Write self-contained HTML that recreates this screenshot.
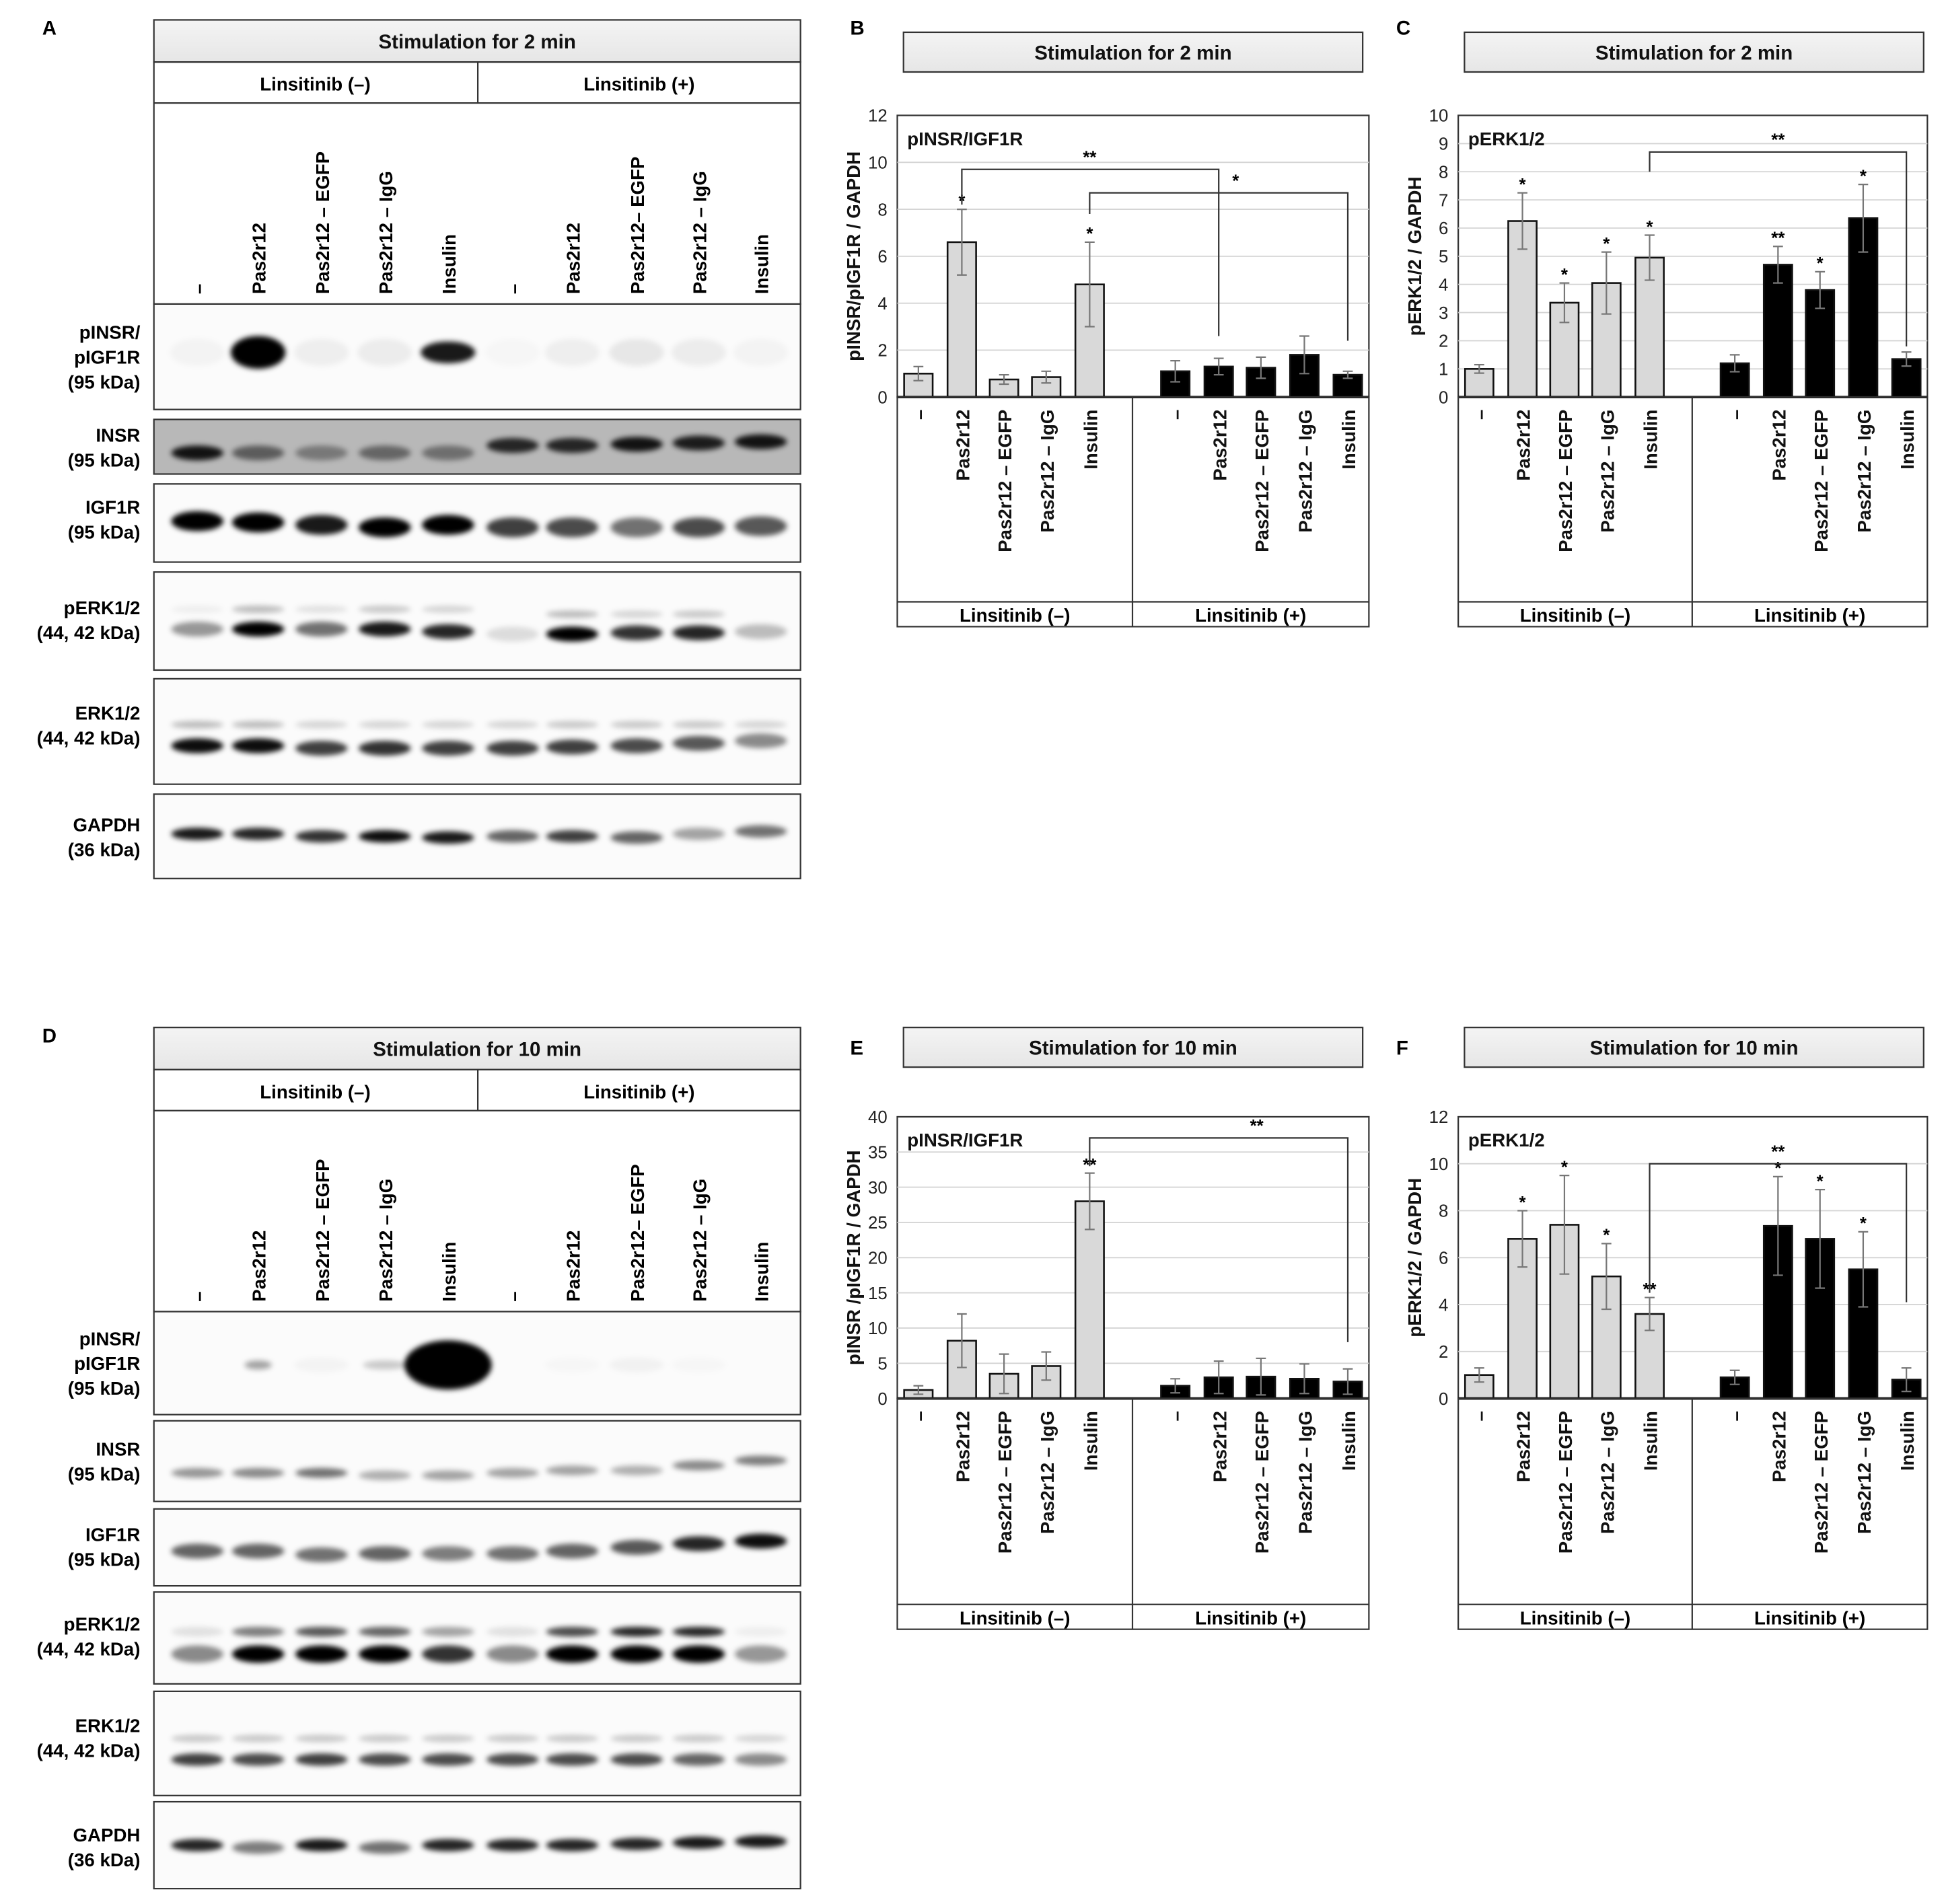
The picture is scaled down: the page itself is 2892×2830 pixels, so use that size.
<!DOCTYPE html>
<html><head><meta charset="utf-8"><style>
html,body{margin:0;padding:0;background:#fff;}
svg{display:block;font-family:"Liberation Sans",Arial,sans-serif;}
</style></head><body>
<svg id="fig" xmlns="http://www.w3.org/2000/svg" width="2892" height="2830" viewBox="0 0 1568 1534.4" preserveAspectRatio="none">
<defs>
<filter id="blur" x="-50%" y="-100%" width="200%" height="300%"><feGaussianBlur stdDeviation="2.2"/></filter>
<linearGradient id="hdr" x1="0" y1="0" x2="0" y2="1"><stop offset="0" stop-color="#f4f4f4"/><stop offset="1" stop-color="#e6e6e6"/></linearGradient>
</defs>
<g id="root"></g>
</svg>
<script>
// ---------- chart data ----------
const categories = ["–","Pas2r12","Pas2r12 – EGFP","Pas2r12 – IgG","Insulin","–","Pas2r12","Pas2r12 – EGFP","Pas2r12 – IgG","Insulin"];
const bValues = [1.0,6.6,0.75,0.85,4.8,1.1,1.3,1.25,1.8,0.95];
const bErrors = [0.3,1.4,0.2,0.25,1.8,0.45,0.35,0.45,0.8,0.15];
const bStars = ["","*","","","*","","","","",""];
const bTicks = [0,2,4,6,8,10,12];
const cValues = [1.0,6.25,3.35,4.05,4.95,1.2,4.7,3.8,6.35,1.35];
const cErrors = [0.15,1.0,0.7,1.1,0.8,0.3,0.65,0.65,1.2,0.25];
const cStars = ["","*","*","*","*","","**","*","*",""];
const cTicks = [0,1,2,3,4,5,6,7,8,9,10];
const eValues = [1.2,8.2,3.5,4.6,28,1.8,3.0,3.1,2.8,2.4];
const eErrors = [0.6,3.8,2.8,2.0,4.0,1.0,2.3,2.6,2.1,1.8];
const eStars = ["","","","","**","","","","",""];
const eTicks = [0,5,10,15,20,25,30,35,40];
const fValues = [1.0,6.8,7.4,5.2,3.6,0.9,7.35,6.8,5.5,0.8];
const fErrors = [0.3,1.2,2.1,1.4,0.7,0.3,2.1,2.1,1.6,0.5];
const fStars = ["","*","*","*","**","","*","*","*",""];
const fTicks = [0,2,4,6,8,10,12];

const NS="http://www.w3.org/2000/svg";
const root=document.getElementById('root');
function mk(tag,attrs,parent,text){const e=document.createElementNS(NS,tag);for(const k in attrs)e.setAttribute(k,attrs[k]);if(text!==undefined)e.textContent=text;(parent||root).appendChild(e);return e;}

function headerBox(x,y,w,h,label,name){
  const r=mk('rect',{x:x,y:y,width:w,height:h,fill:'url(#hdr)',stroke:'#333','stroke-width':1.2});
  
  
  const t=mk('text',{x:x+w/2,y:y+h/2+6,'text-anchor':'middle','font-size':16,'font-weight':'bold',fill:'#111'},null,label);
  
  
}
function panelLetter(x,y,l){
  const t=mk('text',{x:x,y:y,'font-size':16,'font-weight':'bold'},null,l);
  
  
}

// ---------- bar chart ----------
function drawChart(o){
  const g=mk('g',{});
  
  
  const x0=o.x,x1=o.x+o.w,yT=o.top,yB=o.base;
  const ymax=o.ticks[o.ticks.length-1];
  const Y=v=>yB-(v/ymax)*(yB-yT);
  const bw=o.w/380;
  const centers=[17,52,86,120,155,224,259,293,328,363].map(c=>x0+c*bw);
  const X=i=>{const a=Math.floor(i),f=i-a;return f===0?centers[a]:centers[a]+(centers[a+1]-centers[a])*f;};
  headerBox(o.x+5,o.headerY,370,32,o.title,o.name+'-header');
  mk('rect',{x:x0,y:yT,width:o.w,height:yB-yT,fill:'#fff',stroke:'#333','stroke-width':1.2},g);
  o.ticks.forEach(t=>{
    if(t>0&&t<ymax){const l=mk('line',{x1:x0,x2:x1,y1:Y(t),y2:Y(t),stroke:'#d4d4d4','stroke-width':1},g);
    
    }
    const tl=mk('text',{x:x0-8,y:Y(t)+5,'text-anchor':'end','font-size':14,fill:'#222'},g,String(t));
    
    
  });
  const yt=mk('text',{transform:`translate(${x0-30},${(yT+yB)/2}) rotate(-90)`,'text-anchor':'middle','font-size':15,'font-weight':'bold',fill:'#111'},g,o.ylab);
  
  
  const it=mk('text',{x:x0+8,y:yT+24,'font-size':15,'font-weight':'bold',fill:'#111'},g,o.inner);
  
  
  const barW=23*bw;
  o.values.forEach((v,i)=>{
    const r=mk('rect',{x:X(i)-barW/2,y:Y(v),width:barW,height:yB-Y(v),fill:i<5?'#d9d9d9':'#000',stroke:'#111','stroke-width':1.4},g);
    
    
    const e=o.errors[i],ec='#777';
    const el=mk('path',{d:`M${X(i)},${Y(v+e)}V${Y(Math.max(v-e,0))}M${X(i)-4},${Y(v+e)}H${X(i)+4}M${X(i)-4},${Y(Math.max(v-e,0))}H${X(i)+4}`,stroke:ec,'stroke-width':1.2,fill:'none'},g);
    
    
    if(o.stars[i]){const s=mk('text',{x:X(i),y:Y(v+e)-2,'text-anchor':'middle','font-size':14,'font-weight':'bold'},g,o.stars[i]);
    
    }
    const cl=mk('text',{transform:`translate(${X(i)+6},${yB+10}) rotate(-90)`,'text-anchor':'end','font-size':15,'font-weight':'bold',fill:'#111'},g,categories[i]);
    
    
  });
  mk('line',{x1:x0,x2:x1,y1:yB,y2:yB,stroke:'#111','stroke-width':2},g);
  const lb=o.labBottom;
  mk('rect',{x:x0,y:yB,width:o.w,height:lb+20-yB,fill:'none',stroke:'#333','stroke-width':1.2},g);
  const mid=(X(4)+X(5))/2;
  mk('line',{x1:mid,x2:mid,y1:yB,y2:lb+20,stroke:'#333','stroke-width':1.2},g);
  mk('line',{x1:x0,x2:x1,y1:lb,y2:lb,stroke:'#333','stroke-width':1.2},g);
  const l1=mk('text',{x:(x0+mid)/2,y:lb+16,'text-anchor':'middle','font-size':15,'font-weight':'bold'},g,'Linsitinib (–)');
  
  
  const l2=mk('text',{x:(mid+x1)/2,y:lb+16,'text-anchor':'middle','font-size':15,'font-weight':'bold'},g,'Linsitinib (+)');
  
  
  o.brackets.forEach(b=>{
    const p=mk('path',{d:`M${X(b[0])},${Y(b[2])}V${Y(b[3])}H${X(b[1])}V${Y(b[4])}`,fill:'none',stroke:'#333','stroke-width':1.2},g);
    
    
    const s=mk('text',{x:X(b[6]),y:Y(b[3])-5,'text-anchor':'middle','font-size':14,'font-weight':'bold'},g,b[5]);
    
    
  });
}
drawChart({name:'chart-b',title:'Stimulation for 2 min',x:723,w:380,top:93,headerY:26,base:320,labBottom:485,ticks:bTicks,values:bValues,errors:bErrors,stars:bStars,ylab:'pINSR/pIGF1R / GAPDH',inner:'pINSR/IGF1R',brackets:[[1,6,8.2,9.7,2.6,'**',4],[4,9,7.8,8.7,2.4,'*',6.4]]});
drawChart({name:'chart-c',title:'Stimulation for 2 min',x:1175,w:378,top:93,headerY:26,base:320,labBottom:485,ticks:cTicks,values:cValues,errors:cErrors,stars:cStars,ylab:'pERK1/2 / GAPDH',inner:'pERK1/2',brackets:[[4,9,8.0,8.7,1.8,'**',6]]});
drawChart({name:'chart-e',title:'Stimulation for 10 min',x:723,w:380,top:900,headerY:828,base:1127,labBottom:1293,ticks:eTicks,values:eValues,errors:eErrors,stars:eStars,ylab:'pINSR /pIGF1R / GAPDH',inner:'pINSR/IGF1R',brackets:[[4,9,33,37,8,'**',6.9]]});
drawChart({name:'chart-f',title:'Stimulation for 10 min',x:1175,w:378,top:900,headerY:828,base:1127,labBottom:1293,ticks:fTicks,values:fValues,errors:fErrors,stars:fStars,ylab:'pERK1/2 / GAPDH',inner:'pERK1/2',brackets:[[4,9,4.5,10.0,4.1,'**',6]]});
panelLetter(685,28,'B');panelLetter(1125,28,'C');panelLetter(685,850,'E');panelLetter(1125,850,'F');

// ---------- western blots ----------
const lanes=[159,208,259,310,361,413,461,513,563,613];
const laneLabels=["–","Pas2r12","Pas2r12 – EGFP","Pas2r12 – IgG","Insulin","–","Pas2r12","Pas2r12– EGFP","Pas2r12 – IgG","Insulin"];
function drawBlotPanel(o){
  panelLetter(34,o.top+6,o.letter);
  headerBox(124,o.top-6,521,34,o.title,'blot-header-'+o.letter.toLowerCase());
  const t=o.top+28;
  mk('rect',{x:124,y:t,width:521,height:o.laneBottom-t,fill:'none',stroke:'#333','stroke-width':1.2});
  mk('line',{x1:124,x2:645,y1:t+33,y2:t+33,stroke:'#333','stroke-width':1.2});
  mk('line',{x1:385,x2:385,y1:t,y2:t+33,stroke:'#333','stroke-width':1.2});
  const a=mk('text',{x:254,y:t+23,'text-anchor':'middle','font-size':15,'font-weight':'bold'},null,'Linsitinib (–)');
  
  
  const b=mk('text',{x:515,y:t+23,'text-anchor':'middle','font-size':15,'font-weight':'bold'},null,'Linsitinib (+)');
  
  
  lanes.forEach((x,i)=>{
    const l=mk('text',{transform:`translate(${x+6},${o.laneBottom-8}) rotate(-90)`,'font-size':15,'font-weight':'bold'},null,laneLabels[i]);
    
    
  });
  o.blots.forEach(bl=>{
    const g=mk('g',{});
    
    
    const cid='c'+o.letter+bl.name;
    const cp=mk('clipPath',{id:cid},g);mk('rect',{x:124,y:bl.y0,width:521,height:bl.y1-bl.y0},cp);
    mk('rect',{x:124,y:bl.y0,width:521,height:bl.y1-bl.y0,fill:bl.bg||'#fbfbfb'},g);
    const bg=mk('g',{'clip-path':`url(#${cid})`,filter:'url(#blur)'},g);
    bl.bands.forEach(bd=>{
      bd.int.forEach((v,i)=>{ if(v<=0)return;
        const yy=bd.y+(bd.dy?bd.dy[i]:0);
        mk('ellipse',{cx:lanes[i],cy:yy,rx:(bd.w||21)*(bd.wv?bd.wv[i]:1),ry:(bd.h||5)*(bd.hv?bd.hv[i]:1),fill:'#000','fill-opacity':v},bg);
      });
    });
    mk('rect',{x:124,y:bl.y0,width:521,height:bl.y1-bl.y0,fill:'none',stroke:'#333','stroke-width':1.2},g);
    bl.label.forEach((s,k)=>{
      const tx=mk('text',{x:113,y:bl.ly+k*20,'text-anchor':'end','font-size':15,'font-weight':'bold'},null,s);
      
      
    });
  });
}
drawBlotPanel({letter:'A',top:22,title:'Stimulation for 2 min',laneBottom:245,blots:[
 {name:'pinsr',y0:245,y1:330,ly:273,label:['pINSR/','pIGF1R','(95 kDa)'],bands:[
   {y:284,w:22,h:11,int:[0.03,1,0.05,0.06,0.9,0.02,0.05,0.08,0.06,0.03],hv:[1,1.2,1,1,0.8,1,1,1,1,1]}]},
 {name:'insr',y0:338,y1:382,ly:356,bg:'#b8b8b8',label:['INSR','(95 kDa)'],bands:[
   {y:365,h:6,int:[0.9,0.5,0.35,0.45,0.4,0.8,0.8,0.9,0.85,0.9],dy:[0,0,0,0,0,-6,-6,-7,-8,-9]}]},
 {name:'igf1r',y0:390,y1:453,ly:414,label:['IGF1R','(95 kDa)'],bands:[
   {y:423,h:8,int:[1,1,0.9,1,1,0.75,0.7,0.55,0.7,0.65],dy:[-3,-2,0,2,0,2,2,2,2,1]}]},
 {name:'perk',y0:461,y1:540,ly:495,label:['pERK1/2','(44, 42 kDa)'],bands:[
   {y:491,h:3,int:[0.05,0.25,0.1,0.2,0.15,0,0.25,0.15,0.2,0],dy:[0,0,0,0,0,0,4,4,4,0]},
   {y:507,h:6,int:[0.4,1,0.55,0.9,0.85,0.12,1,0.8,0.85,0.25],dy:[0,0,0,0,2,4,4,3,3,2]}]},
 {name:'erk',y0:547,y1:632,ly:580,label:['ERK1/2','(44, 42 kDa)'],bands:[
   {y:584,h:3,int:[0.25,0.25,0.15,0.15,0.15,0.15,0.2,0.2,0.2,0.15]},
   {y:601,h:6,int:[0.95,0.95,0.75,0.8,0.75,0.75,0.75,0.7,0.65,0.45],dy:[0,0,2,2,2,2,1,0,-2,-4]}]},
 {name:'gapdh',y0:640,y1:708,ly:670,label:['GAPDH','(36 kDa)'],bands:[
   {y:672,h:5,int:[0.9,0.85,0.8,0.95,0.9,0.6,0.75,0.6,0.35,0.55],dy:[0,0,2,2,3,2,2,3,0,-2]}]}
]});
drawBlotPanel({letter:'D',top:834,title:'Stimulation for 10 min',laneBottom:1057,blots:[
 {name:'pinsr',y0:1057,y1:1140,ly:1084,label:['pINSR/','pIGF1R','(95 kDa)'],bands:[
   {y:1100,w:22,h:6,int:[0,0.35,0.03,0.2,1,0,0.02,0.04,0.02,0],wv:[1,0.5,1,0.8,1.6,1,1,1,1,1],hv:[1,0.6,1,0.6,3.3,1,1,1,1,1]}]},
 {name:'insr',y0:1145,y1:1210,ly:1173,label:['INSR','(95 kDa)'],bands:[
   {y:1187,h:4,int:[0.4,0.45,0.55,0.3,0.35,0.35,0.35,0.3,0.45,0.5],dy:[0,0,0,2,2,0,-2,-2,-6,-10]}]},
 {name:'igf1r',y0:1216,y1:1278,ly:1242,label:['IGF1R','(95 kDa)'],bands:[
   {y:1250,h:6,int:[0.6,0.6,0.55,0.6,0.5,0.55,0.6,0.65,0.85,0.95],dy:[0,0,3,2,2,2,0,-3,-6,-8]}]},
 {name:'perk',y0:1283,y1:1357,ly:1314,label:['pERK1/2','(44, 42 kDa)'],bands:[
   {y:1315,h:4,int:[0.1,0.5,0.65,0.6,0.35,0.1,0.7,0.85,0.85,0.05]},
   {y:1333,h:7,int:[0.45,1,1,1,0.8,0.45,1,1,1,0.4]}]},
 {name:'erk',y0:1363,y1:1447,ly:1396,label:['ERK1/2','(44, 42 kDa)'],bands:[
   {y:1401,h:3,int:[0.2,0.2,0.2,0.2,0.2,0.2,0.2,0.2,0.2,0.15]},
   {y:1418,h:5,int:[0.75,0.7,0.75,0.7,0.7,0.7,0.7,0.7,0.6,0.45]}]},
 {name:'gapdh',y0:1452,y1:1522,ly:1484,label:['GAPDH','(36 kDa)'],bands:[
   {y:1487,h:5,int:[0.85,0.5,0.9,0.55,0.85,0.85,0.85,0.85,0.9,0.9],dy:[0,2,0,2,0,0,0,-1,-2,-3]}]}
]});
</script>
</body></html>
